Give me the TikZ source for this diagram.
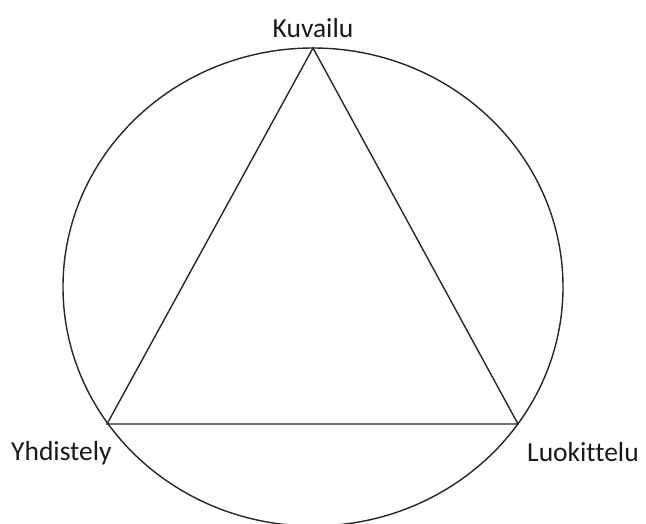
\documentclass[tikz,border=0pt]{standalone}
\usepackage{fontspec}
\setmainfont[RawFeature={-liga}]{Carlito}
\begin{document}
\begin{tikzpicture}[x=1pt,y=-1pt,
  shape line/.style={line width=1.4pt, draw=black!85},
  lbl/.style={font=\fontsize{27.5}{30}\selectfont, text=black!90, inner sep=0pt}]
\useasboundingbox (0,0) rectangle (646,523);
\coordinate (A) at (313,48);
\coordinate (B) at (107,424);
\coordinate (C) at (518,424);
\draw[shape line] (313,287) ellipse [x radius=250, y radius=239];
\draw[shape line, line join=miter] (A) -- (B) -- (C) -- cycle;
\node[lbl, anchor=base] (kuv) at (313,37) {Kuvailu};
\node[lbl, anchor=base west] (yhd) at (11,460) {Yhdistely};
\node[lbl, anchor=base west] (luo) at (527,461) {Luokittelu};
\end{tikzpicture}
\end{document}
